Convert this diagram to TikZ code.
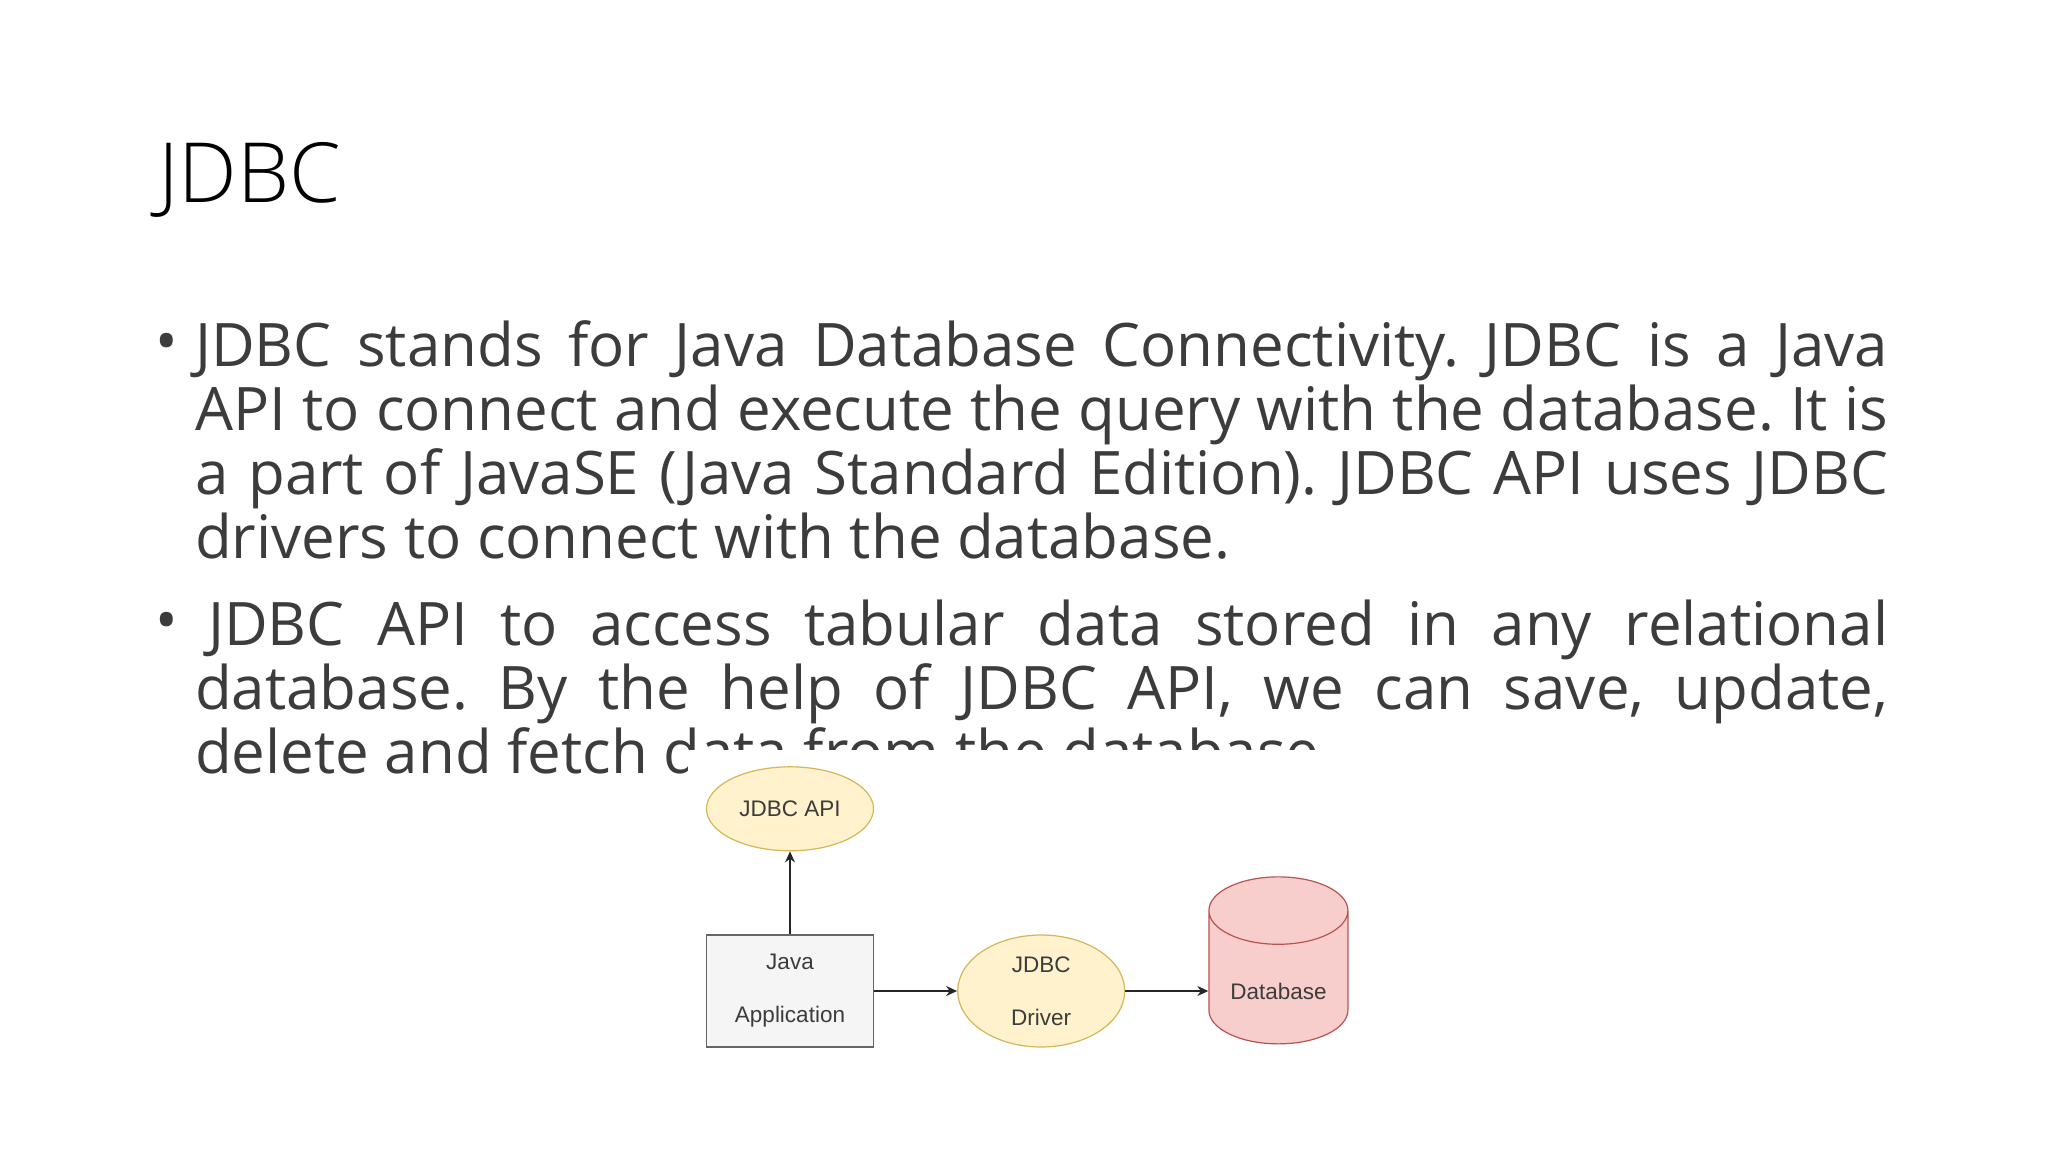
\documentclass[tikz,border=0pt]{standalone}
\usepackage{fontspec}
\setmainfont{Open Sans}
\newfontfamily\titlefont{Open Sans Light}
\newfontfamily\diagfont{Liberation Sans}
\usetikzlibrary{positioning,shapes.geometric,arrows.meta}

\definecolor{textgray}{RGB}{60,60,60}
\definecolor{apifill}{HTML}{FFF2CC}
\definecolor{apiline}{HTML}{D6B656}
\definecolor{appfill}{HTML}{F5F5F5}
\definecolor{appline}{HTML}{666666}
\definecolor{dbfill}{HTML}{F8CECC}
\definecolor{dbline}{HTML}{B85450}

\begin{document}
\frenchspacing
\begin{tikzpicture}[x=1pt, y=-1pt, node distance=83pt,
    every node/.style={inner sep=0pt},
    bodytext/.style={anchor=base west, align=left, text=textgray, font=\fontsize{60}{64}\selectfont},
    bulletdot/.style={anchor=base, text=textgray, font=\fontsize{60}{64}\selectfont},
    yellownode/.style={ellipse, draw=apiline, fill=apifill, line width=1.2pt, minimum width=167pt, align=center, text=textgray, font=\diagfont\fontsize{22.5}{26}\selectfont},
    appbox/.style={rectangle, draw=appline, fill=appfill, line width=1.2pt, minimum width=167pt, minimum height=112pt, align=center, text=textgray, font=\diagfont\fontsize{22.5}{26}\selectfont},
    dbnode/.style={cylinder, shape border rotate=90, aspect=0.7, draw=dbline, fill=dbfill, line width=1.2pt, minimum width=139pt, minimum height=167pt, text height=44pt, text depth=0pt, text=textgray, font=\diagfont\fontsize{22.5}{26}\selectfont},
    flow/.style={-{Stealth[length=11pt,width=10pt]}, line width=1.3pt, draw=black!85}]

  \fill[white] (0,0) rectangle (2048,1152);
  \useasboundingbox (0,0) rectangle (2048,1152);

  \node[anchor=base west, font=\titlefont\fontsize{83}{90}\selectfont] (title) at (158,202) {JDBC};

  % first bullet
  \node[bulletdot] (dotone) at (167,362) {\textbullet};
  \node[bodytext] (partone) at (195,558) {%
    \makebox[1693pt][s]{JDBC stands for Java Database Connectivity. JDBC is a Java}\\
    \makebox[1693pt][s]{API to connect and execute the query with the database. It is}\\
    \makebox[1693pt][s]{a part of JavaSE (Java Standard Edition). JDBC API uses JDBC}\\
    drivers to connect with the database.};

  % second bullet
  \node[bulletdot] (dottwo) at (167,641) {\textbullet};
  \node[bodytext] (parttwo) at (195,773) {%
    \makebox[1693pt][s]{\hspace*{13pt}JDBC API to access tabular data stored in any relational}\\
    \makebox[1693pt][s]{database. By the help of JDBC API, we can save, update,}\\
    delete and fetch data from the database.};

  % the diagram sits on its own white canvas
  \fill[white] (688,750) rectangle (1400,1100);

  \node[appbox] (javaapp) at (790,991) {Java\\[27pt]Application};
  \node[yellownode, minimum height=84pt] (jdbcapi) [above=of javaapp] {JDBC API};
  \node[yellownode, minimum height=112pt] (jdbcdriver) [right=of javaapp] {JDBC\\[27pt]Driver};
  \node[dbnode] (database) [right=of jdbcdriver, yshift=13.5pt] {Database};

  \draw[flow] (javaapp) -- (jdbcapi);
  \draw[flow] (javaapp) -- (jdbcdriver);
  \draw[flow] (jdbcdriver) -- (jdbcdriver -| database.west);
\end{tikzpicture}
\end{document}
